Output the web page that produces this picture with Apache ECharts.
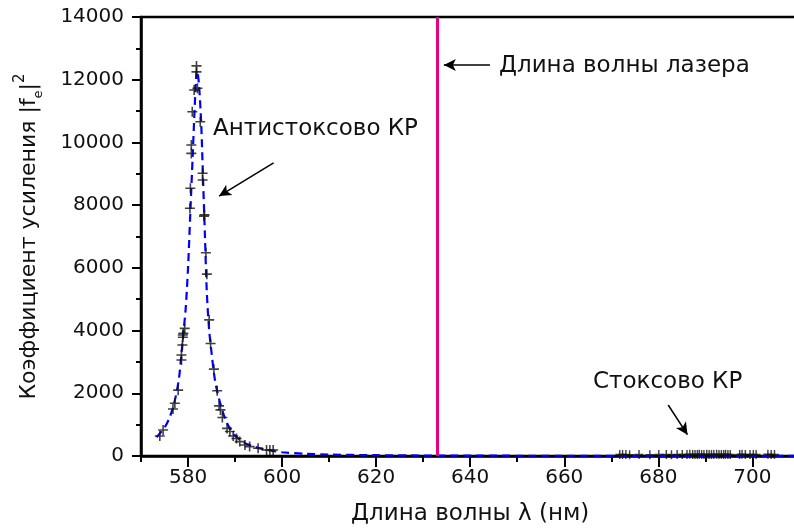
<!DOCTYPE html>
<html>
<head>
<meta charset="utf-8">
<script src="https://cdn.jsdelivr.net/npm/echarts@6/dist/echarts.min.js"></script>
<style>html,body{margin:0;padding:0;background:#fff}#c{width:794px;height:530px}</style>
</head>
<body>
<div id="c"></div>
<script>
// Anti-Stokes measured points (wavelength nm, gain)
const antiX = [581.8,581.8,582.0,581.3,580.9,582.6,580.7,580.7,583.1,583.1,580.5,580.4,583.4,583.5,583.8,584.0,584.5,
  579.3,578.9,579.0,578.9,578.8,578.6,578.6,577.9,577.2,576.8,574.7,574.0,
  584.8,585.5,586.2,586.6,586.9,587.3,588.3,588.9,589.6,590.3,591.0,592.1,593.1,594.9,596.7,597.4,598.1];
const antiY = [12440,12250,11730,11670,10980,10660,9920,9650,9015,8800,8540,7900,7650,7690,6480,5800,4340,
  4070,3860,3910,3785,3540,3220,3060,2100,1680,1500,830,640,
  3590,2770,2080,1600,1470,1230,880,780,640,560,460,350,300,245,190,190,190];
// Stokes measured points
const stokesX = [671.8,672.4,673.1,673.9,675.9,678.2,680.1,681.7,682.8,684.0,685.1,686.1,686.7,687.3,687.8,688.3,688.7,
  689.2,689.7,690.3,690.8,691.3,691.8,692.4,692.9,693.4,693.9,694.3,694.8,695.3,697.3,697.8,698.5,699.5,700.2,700.8,703.3,704.0,704.7];
const stokesY = [50,45,50,40,45,40,50,45,40,50,45,50,55,50,45,50,55,50,45,55,50,45,50,55,50,45,50,55,50,45,50,55,45,50,45,50,55,50,45];
// Fit curve (dashed blue)
const fitX = [573.3,574,575,576,577,578,578.5,579,579.5,580,580.5,581,581.5,581.9,582.3,582.8,583.2,583.6,584,584.5,585,585.5,586,587,588,589,590,592,594,596,598,600,605,610,620,630,640,660,680,700,710];
const fitY = [600,720,900,1200,1650,2400,3100,3900,4700,6000,7800,9600,11400,12300,11900,10600,8800,7000,5200,4000,3300,2650,2200,1600,1150,850,650,420,300,220,160,120,70,45,25,15,10,8,6,5,5];
const laserWavelength = 633;
const xMin = 570, xMax = 710, xMinorStep = 10;
const xMajorTicks = [580, 600, 620, 640, 660, 680, 700];
const yMin = 0, yMax = 14000, yStep = 2000;

const FONT = 'DejaVu Sans';
const chart = echarts.init(document.getElementById('c'), null, {renderer: 'canvas'});
const plus = 'path://M4.2,0h1.6v10h-1.6z M0,4.2h10v1.6h-10z';
const arrowLine = {color: '#000', width: 1.5, type: 'solid'};
chart.setOption({
  animation: false,
  backgroundColor: '#fff',
  grid: {left: 141, top: 17, width: 658.4, height: 439, show: true, borderColor: '#000', borderWidth: 2.5,
    backgroundColor: 'transparent', containLabel: false, outerBoundsMode: 'none'},
  xAxis: [{
    type: 'value', min: xMin, max: xMax, interval: xMinorStep,
    name: 'Длина волны λ (нм)', nameLocation: 'middle', nameGap: 47,
    nameTextStyle: {fontFamily: FONT, fontSize: 23, color: '#111'},
    axisLine: {show: true, onZero: false, lineStyle: {color: '#000', width: 2.5}},
    axisTick: {show: true, inside: false, length: 6, lineStyle: {color: '#000', width: 2}},
    axisLabel: {fontFamily: FONT, fontSize: 20, color: '#111', margin: 12,
      formatter: v => (xMajorTicks.indexOf(Math.round(v)) >= 0 ? String(Math.round(v)) : '')},
    splitLine: {show: false}
  }, {
    type: 'value', min: xMin, max: xMax, position: 'bottom', gridIndex: 0,
    axisLine: {show: false, onZero: false},
    axisTick: {show: true, inside: false, length: 11, customValues: xMajorTicks, lineStyle: {color: '#000', width: 2}},
    axisLabel: {show: false},
    splitLine: {show: false}
  }],
  yAxis: {
    type: 'value', min: yMin, max: yMax, interval: yStep,
    name: '{a|Коэффициент усиления |f}{sub|e}{a||}{sup|2}', nameLocation: 'middle', nameGap: 96, nameRotate: 90,
    nameTextStyle: {fontFamily: FONT, fontSize: 22, color: '#111',
      rich: {
        a: {fontFamily: FONT, fontSize: 22, color: '#111', lineHeight: 32, verticalAlign: 'middle'},
        sub: {fontFamily: FONT, fontSize: 13, color: '#111', lineHeight: 32, verticalAlign: 'bottom'},
        sup: {fontFamily: FONT, fontSize: 15, color: '#111', lineHeight: 32, verticalAlign: 'top'}
      }},
    axisLine: {show: true, onZero: false, lineStyle: {color: '#000', width: 2.5}},
    axisTick: {show: true, inside: false, length: 9, lineStyle: {color: '#000', width: 2}},
    minorTick: {show: true, splitNumber: 2, length: 5, lineStyle: {color: '#000', width: 2}},
    axisLabel: {fontFamily: FONT, fontSize: 20, color: '#111', margin: 17, formatter: v => String(v)},
    splitLine: {show: false}
  },
  series: [
    {
      type: 'line', name: 'fit', data: fitX.map((x, i) => [x, fitY[i]]),
      showSymbol: false, smooth: 0.3, z: 2,
      lineStyle: {color: '#0000ff', width: 2.2, type: [8, 5]},
      markLine: {
        silent: true, symbol: 'none', animation: false,
        label: {show: false},
        lineStyle: {color: '#e5007d', width: 3, type: 'solid'},
        data: [{xAxis: laserWavelength}]
      }
    },
    {
      type: 'scatter', name: 'anti', data: antiX.map((x, i) => [x, antiY[i]]),
      symbol: plus, symbolSize: 10, itemStyle: {color: '#111'}, z: 3
    },
    {
      type: 'scatter', name: 'stokes', data: stokesX.map((x, i) => [x, stokesY[i]]),
      symbol: plus, symbolSize: 9, itemStyle: {color: '#111'}, z: 3,
      markLine: {
        silent: true, animation: false, label: {show: false},
        symbol: ['none', 'arrow'], symbolSize: [9, 12],
        lineStyle: arrowLine,
        data: [
          [{coord: [598.2, 9350]}, {coord: [586.6, 8290]}],
          [{coord: [644.2, 12470]}, {coord: [634.4, 12470]}],
          [{coord: [682.1, 1626]}, {coord: [686.2, 680]}]
        ]
      }
    }
  ],
  graphic: [
    {type: 'text', left: 213, top: 118, style: {text: 'Антистоксово КР', fontFamily: FONT, fontSize: 23, fill: '#111'}},
    {type: 'text', left: 499, top: 55, style: {text: 'Длина волны лазера', fontFamily: FONT, fontSize: 23, fill: '#111'}},
    {type: 'text', left: 593, top: 371, style: {text: 'Стоксово КР', fontFamily: FONT, fontSize: 23, fill: '#111'}}
  ]
});
</script>
</body>
</html>
